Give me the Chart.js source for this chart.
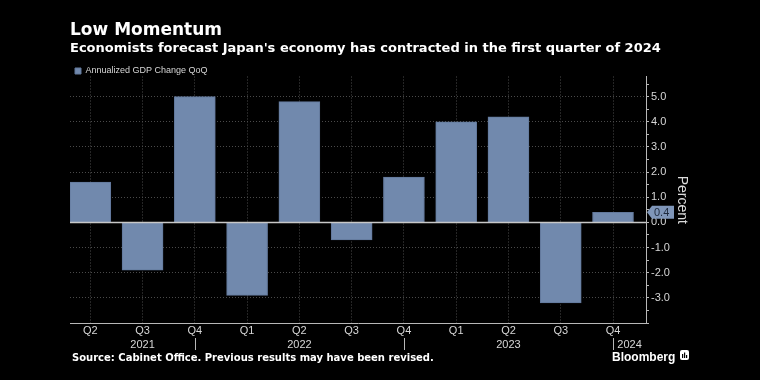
<!DOCTYPE html>
<html><head><meta charset="utf-8">
<script src="https://cdn.jsdelivr.net/npm/chart.js@4"></script>
<style>
html,body{margin:0;padding:0;background:#000;}
#wrap{position:relative;width:760px;height:380px;background:#000;overflow:hidden;}
canvas{position:absolute;left:0;top:0;}
.t{position:absolute;white-space:nowrap;color:#fff;font-family:"DejaVu Sans";font-weight:bold;line-height:1;}
</style></head><body>
<div id="wrap">
<canvas id="c" width="760" height="380" style="width:760px;height:380px"></canvas>
<div class="t" style="left:70px;top:20.6px;font-size:17px">Low Momentum</div>
<div class="t" style="left:70px;top:40.7px;font-size:13px">Economists forecast Japan's economy has contracted in the first quarter of 2024</div>
<div class="t" style="left:72px;top:353px;font-size:10px">Source: Cabinet Office. Previous results may have been revised.</div>
<div class="t" style="left:612px;top:350.8px;font-size:12px;font-family:'Liberation Sans'">Bloomberg</div>
<svg style="position:absolute;left:680px;top:350px" width="9" height="10" viewBox="0 0 9 10"><rect x="0" y="0" width="9" height="10" rx="2" fill="#fff"/><rect x="2" y="4" width="1.2" height="4" fill="#000"/><rect x="4" y="2.5" width="1.2" height="5.5" fill="#000"/><rect x="6" y="5" width="1.2" height="3" fill="#000"/></svg>
</div>
<script>
const quarters = ['Q2','Q3','Q4','Q1','Q2','Q3','Q4','Q1','Q2','Q3','Q4'];
const quarterYears = ['2021','2021','2021','2022','2022','2022','2022','2023','2023','2023','2023'];
const yearLabels = ['2021','2022','2023','2024'];
const gdpChange = [1.6,-1.9,5.0,-2.9,4.8,-0.7,1.8,4.0,4.2,-3.2,0.4];
const yTickValues = [-3,-2,-1,0,1,2,3,4,5];
const seriesName = 'Annualized GDP Change QoQ';

const BAR = '#7189ad';
const TXT = '#d6d6d6';
const GRID = '#4a4a4a';
const AXIS = '#b8b8b8';

const extras = {
  id: 'extras',
  beforeLayout(chart) {
    const lg = chart.legend;
    if (lg && !lg._patched) {
      const f = lg.fit;
      lg.fit = function () { f.call(this); this.height = 15; };
      lg._patched = true;
    }
  },
  afterDatasetsDraw(chart) {
    const {ctx, chartArea, scales: {y}} = chart;
    const y0 = y.getPixelForValue(0);
    ctx.save();
    ctx.strokeStyle = '#c8c8c8';
    ctx.lineWidth = 1.5;
    ctx.beginPath();
    ctx.moveTo(chartArea.left, y0);
    ctx.lineTo(chartArea.right, y0);
    ctx.stroke();
    ctx.restore();
  },
  afterDraw(chart) {
    const {ctx, chartArea, scales: {x, y}} = chart;
    ctx.save();
    ctx.strokeStyle = AXIS;
    ctx.lineWidth = 1;
    quarters.forEach((q, i) => {
      if (q !== 'Q4') return;
      const px = Math.round(x.getPixelForValue(i)) + 0.5;
      ctx.beginPath();
      ctx.moveTo(px, chartArea.bottom + 15);
      ctx.lineTo(px, chartArea.bottom + 27);
      ctx.stroke();
    });
    ctx.fillStyle = TXT;
    ctx.font = '11px "Liberation Sans"';
    ctx.textAlign = 'center';
    ctx.textBaseline = 'alphabetic';
    yearLabels.forEach(yr => {
      const prev = String(Number(yr) - 1);
      const prevQ4 = quarters.findIndex((q, i) => q === 'Q4' && quarterYears[i] === prev);
      const thisQ4 = quarters.findIndex((q, i) => q === 'Q4' && quarterYears[i] === yr);
      const first = quarterYears.indexOf(yr);
      const start = prevQ4 >= 0 ? x.getPixelForValue(prevQ4) : x.getPixelForValue(first);
      const end = thisQ4 >= 0 ? x.getPixelForValue(thisQ4) : chartArea.right;
      ctx.fillText(yr, (start + end) / 2, chartArea.bottom + 24.5);
    });
    const v = gdpChange[gdpChange.length - 1];
    const py = y.getPixelForValue(v);
    const px = chartArea.right;
    ctx.fillStyle = '#7f96b9';
    ctx.beginPath();
    ctx.moveTo(px + 1, py);
    ctx.lineTo(px + 6, py - 6.5);
    ctx.lineTo(px + 28, py - 6.5);
    ctx.lineTo(px + 28, py + 6.5);
    ctx.lineTo(px + 6, py + 6.5);
    ctx.closePath();
    ctx.fill();
    ctx.fillStyle = '#1e2a3e';
    ctx.textAlign = 'left';
    ctx.textBaseline = 'middle';
    ctx.fillText(v.toFixed(1), px + 8, py + 0.5);
    ctx.restore();
  }
};

new Chart(document.getElementById('c'), {
  type: 'bar',
  data: {
    datasets: [{
      label: seriesName,
      data: gdpChange.map((v, i) => ({x: i, y: v})),
      backgroundColor: BAR,
      borderColor: '#62789b',
      borderWidth: 1,
      barThickness: 41
    }]
  },
  options: {
    responsive: false,
    animation: false,
    devicePixelRatio: 1,
    layout: {padding: {top: 61.5, left: 70, right: 70, bottom: 7}},
    plugins: {
      legend: {
        display: true, position: 'top', align: 'start',
        labels: {boxWidth: 6, boxHeight: 6, padding: 5, color: TXT, font: {family: 'Liberation Sans', size: 9}}
      },
      tooltip: {enabled: false}
    },
    scales: {
      x: {
        type: 'linear', position: 'bottom', min: -0.388, max: 10.631, offset: false,
        afterBuildTicks(s) { s.ticks = quarters.map((q, i) => ({value: i})); },
        afterFit(s) { s.height = 50; },
        ticks: {
          callback(v) { return quarters[v]; },
          color: TXT, font: {family: 'Liberation Sans', size: 11}, padding: 1,
          maxRotation: 0, autoSkip: false
        },
        grid: {color: GRID, drawTicks: false, lineWidth: 1, offset: false},
        border: {display: true, color: AXIS, width: 1, dash: [1, 2]}
      },
      y: {
        position: 'right', min: -4, max: 5.8,
        afterBuildTicks(s) {
          const t = [];
          for (let k = 0; k <= 19; k++) t.push({value: -4 + k * 0.5});
          s.ticks = t;
        },
        afterFit(s) { s.width = 44; },
        ticks: {
          callback(v) { return yTickValues.includes(v) ? v.toFixed(1) : ''; },
          color: TXT, font: {family: 'Liberation Sans', size: 11}, padding: 2, autoSkip: false
        },
        grid: {
          color(ctx) {
            const v = ctx.tick ? ctx.tick.value : null;
            return (yTickValues.includes(v) && v !== 0) ? GRID : 'rgba(0,0,0,0)';
          },
          tickColor: AXIS, tickLength: 3, drawTicks: true
        },
        border: {display: true, color: AXIS, width: 1, dash: [1, 2]},
        title: {display: true, text: 'Percent', color: '#dcdcdc', font: {family: 'Liberation Sans', size: 14}, padding: 0}
      }
    }
  },
  plugins: [extras]
});
</script>
</body></html>
